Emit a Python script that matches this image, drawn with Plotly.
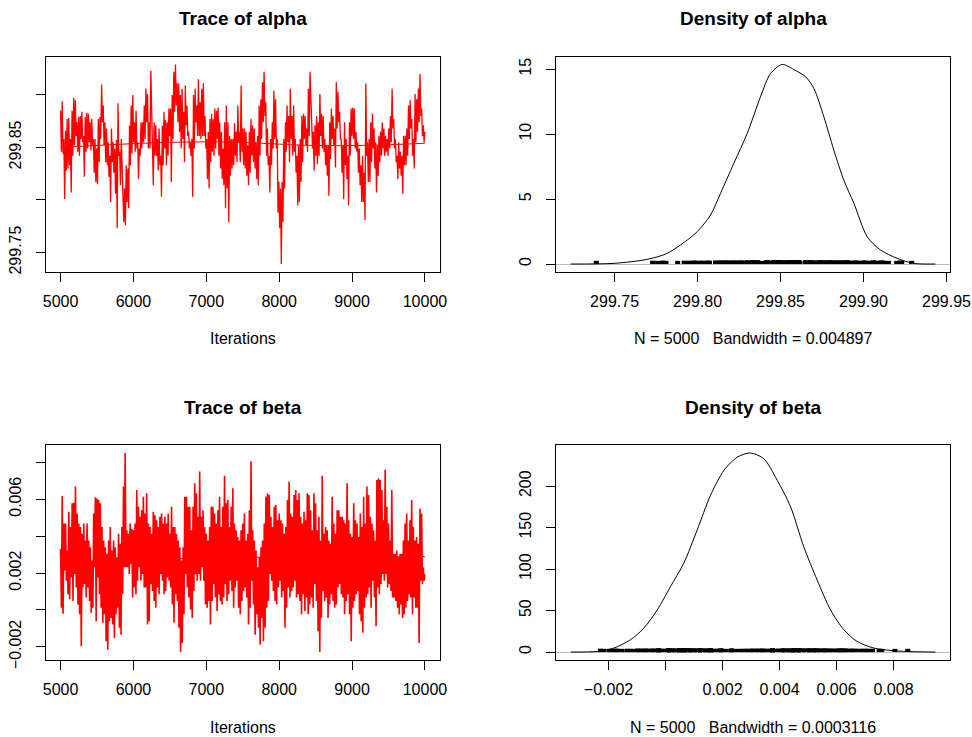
import numpy as np
import plotly.graph_objects as go

# ---------------- data ----------------
alpha_trace = [
299.885, 299.846, 299.894, 299.844, 299.858, 299.801, 299.866, 299.828, 299.877, 299.830,
299.878, 299.833, 299.858, 299.807, 299.885, 299.842, 299.897, 299.852, 299.895, 299.861,
299.874, 299.846, 299.879, 299.842, 299.880, 299.858, 299.884, 299.855, 299.861, 299.822,
299.879, 299.846, 299.883, 299.849, 299.882, 299.855, 299.874, 299.847, 299.877, 299.852,
299.858, 299.826, 299.858, 299.817, 299.849, 299.815, 299.877, 299.836, 299.879, 299.858,
299.910, 299.874, 299.890, 299.852, 299.874, 299.836, 299.868, 299.833, 299.855, 299.822,
299.842, 299.798, 299.868, 299.836, 299.855, 299.826, 299.849, 299.806, 299.857, 299.773,
299.892, 299.842, 299.846, 299.814, 299.858, 299.833, 299.817, 299.779, 299.811, 299.776,
299.833, 299.798, 299.830, 299.792, 299.871, 299.833, 299.890, 299.844, 299.900, 299.855,
299.874, 299.846, 299.885, 299.849, 299.855, 299.820, 299.849, 299.842, 299.874, 299.849,
299.874, 299.855, 299.890, 299.858, 299.906, 299.874, 299.901, 299.849, 299.874, 299.849,
299.923, 299.890, 299.874, 299.814, 299.874, 299.842, 299.871, 299.842, 299.858, 299.828,
299.868, 299.833, 299.842, 299.803, 299.871, 299.833, 299.884, 299.849, 299.876, 299.833,
299.874, 299.842, 299.887, 299.861, 299.887, 299.817, 299.900, 299.858,
299.922, 299.884, 299.929, 299.890, 299.911, 299.874, 299.911, 299.865, 299.900, 299.849,
299.906, 299.858, 299.884, 299.836, 299.909, 299.871, 299.890, 299.861, 299.865, 299.849,
299.855, 299.842, 299.858, 299.803, 299.900, 299.849, 299.906, 299.874, 299.890, 299.861,
299.915, 299.861, 299.893, 299.858, 299.906, 299.861, 299.911, 299.861, 299.880, 299.849,
299.858, 299.820, 299.865, 299.811, 299.877, 299.836, 299.882, 299.846, 299.877, 299.842,
299.887, 299.849, 299.885, 299.858, 299.888, 299.842, 299.874, 299.830, 299.865, 299.820,
299.849, 299.814, 299.874, 299.792, 299.890, 299.811, 299.874, 299.779, 299.861, 299.823,
299.858, 299.830, 299.858, 299.833, 299.873, 299.842, 299.865, 299.836, 299.890, 299.855,
299.865, 299.836, 299.909, 299.846, 299.868, 299.833, 299.868, 299.830, 299.865, 299.823,
299.852, 299.814, 299.865, 299.826, 299.877, 299.842, 299.871, 299.836, 299.868, 299.830,
299.855, 299.820, 299.861, 299.814, 299.890, 299.842, 299.896, 299.858, 299.912, 299.874,
299.922, 299.880, 299.893, 299.842, 299.868, 299.833, 299.842, 299.807, 299.858, 299.833,
299.874, 299.849, 299.904, 299.858, 299.896, 299.849, 299.858, 299.788, 299.817, 299.773,
299.811, 299.739, 299.817, 299.779, 299.858, 299.811, 299.874, 299.846, 299.890, 299.855,
299.880, 299.836, 299.906, 299.858, 299.880, 299.842, 299.890, 299.846, 299.858, 299.826,
299.842, 299.795, 299.852, 299.798, 299.858, 299.817, 299.880, 299.836, 299.882, 299.858,
299.880, 299.852,
299.868, 299.846, 299.906, 299.861, 299.922, 299.884, 299.874, 299.849, 299.865, 299.828,
299.871, 299.842, 299.880, 299.834, 299.874, 299.842, 299.901, 299.861, 299.882, 299.849,
299.880, 299.846, 299.858, 299.833, 299.852, 299.823, 299.852, 299.804, 299.874, 299.839,
299.887, 299.858, 299.880, 299.852, 299.868, 299.831, 299.912, 299.868, 299.903, 299.874,
299.884, 299.858, 299.858, 299.826, 299.852, 299.801, 299.874, 299.833, 299.858, 299.820,
299.842, 299.795, 299.874, 299.842, 299.887, 299.861, 299.888, 299.858, 299.887, 299.849,
299.865, 299.846, 299.855, 299.826, 299.849, 299.814, 299.833, 299.798, 299.842, 299.798,
299.826, 299.781, 299.911, 299.842, 299.855, 299.817, 299.858, 299.817, 299.874, 299.836,
299.882, 299.849, 299.868, 299.830, 299.855, 299.807, 299.852, 299.823, 299.861, 299.836,
299.865, 299.842, 299.874, 299.849, 299.868, 299.842, 299.861, 299.846, 299.858, 299.842,
299.868, 299.849, 299.880, 299.855, 299.906, 299.868, 299.877, 299.849, 299.858, 299.836,
299.842, 299.820, 299.855, 299.830, 299.846, 299.823, 299.842, 299.806, 299.861, 299.833,
299.861, 299.833, 299.868, 299.842, 299.890, 299.858, 299.895, 299.868, 299.877, 299.842,
299.858, 299.830, 299.901, 299.855, 299.896, 299.865, 299.906, 299.874, 299.920, 299.880,
299.887, 299.861, 299.871, 299.855, 299.865,
]

beta_trace = [
0.00331, 0.00012, 0.00617, -0.00021, 0.00468, 0.00213, 0.00468, 0.00158, 0.00322, 0.00085,
0.00531, 0.00058, 0.00449, 0.00176, 0.00577, 0.00049, 0.00580, 0.00194, 0.00668, 0.00122,
0.00522, 0.00030, 0.00468, -0.00024, 0.00449, -0.00197, 0.00413, 0.00122, 0.00468, 0.00140,
0.00376, 0.00067, 0.00468, 0.00122, 0.00376, 0.00049, 0.00340, -0.00015, 0.00267, 0.00012,
0.00522, 0.00231, 0.00610, -0.00061, 0.00604, 0.00176, 0.00595, 0.00085, 0.00577, 0.00012,
0.00449, -0.00070, 0.00376, -0.00024, 0.00340, -0.00170, 0.00304, -0.00216, 0.00376, -0.00061,
0.00449, -0.00043, 0.00322, -0.00079, 0.00376, -0.00152, 0.00340, -0.00024, 0.00285, 0.00012,
0.00413, -0.00097, 0.00358, -0.00134, 0.00449, 0.00085, 0.00668, 0.00231, 0.00850, 0.00231,
0.00431, 0.00231, 0.00413, 0.00194, 0.00468, 0.00249, 0.00440, 0.00067, 0.00431, 0.00122,
0.00468, 0.00085, 0.00650, 0.00158, 0.00559, 0.00231, 0.00504, 0.00158, 0.00540, 0.00194,
0.00613, 0.00122, 0.00522, 0.00122, 0.00632, -0.00079, 0.00468, -0.00061, 0.00449, 0.00140,
0.00413, 0.00103, 0.00531, 0.00049, 0.00513, 0.00012, 0.00486, 0.00122, 0.00449, 0.00085,
0.00504, 0.00194, 0.00522, 0.00158, 0.00468, 0.00085, 0.00504, 0.00103, 0.00468, 0.00176,
0.00522, 0.00158, 0.00413, 0.00122, 0.00559, 0.00030, 0.00449, -0.00070,
0.00449, 0.00085, 0.00413, 0.00049, 0.00376, -0.00097, 0.00340, -0.00228, 0.00267, -0.00179,
0.00340, -0.00024, 0.00613, 0.00194, 0.00613, 0.00122, 0.00559, 0.00067, 0.00559, 0.00003,
0.00431, -0.00043, 0.00559, 0.00103, 0.00686, 0.00194, 0.00632, 0.00158, 0.00504, 0.00194,
0.00750, 0.00158, 0.00504, 0.00231, 0.00540, 0.00158, 0.00449, 0.00030, 0.00413, 0.00012,
0.00376, 0.00049, 0.00449, -0.00079, 0.00559, 0.00049, 0.00559, 0.00140, 0.00522, 0.00067,
0.00468, -0.00006, 0.00540, 0.00085, 0.00613, 0.00049, 0.00449, 0.00030, 0.00559, 0.00067,
0.00726, 0.00140, 0.00577, 0.00049, 0.00595, 0.00085, 0.00449, 0.00158, 0.00559, 0.00103,
0.00659, 0.00012, 0.00468, 0.00122, 0.00431, 0.00158, 0.00395, 0.00012, 0.00376, -0.00024,
0.00431, 0.00049, 0.00468, 0.00103, 0.00522, 0.00122, 0.00376, 0.00067, 0.00413, -0.00079,
0.00540, 0.00012, 0.00805, 0.00158, 0.00431, 0.00030, 0.00376, -0.00134, 0.00322, -0.00024,
0.00231, -0.00097, 0.00285, -0.00188, 0.00340, -0.00043, 0.00376, -0.00170, 0.00468, -0.00097,
0.00613, 0.00012, 0.00632, 0.00049, 0.00622, 0.00194, 0.00504, 0.00158, 0.00449, 0.00103,
0.00559, 0.00049, 0.00568, 0.00030, 0.00486, 0.00122, 0.00522, 0.00158, 0.00486, 0.00067,
0.00468, 0.00103, 0.00413, -0.00097, 0.00449, 0.00012, 0.00595, 0.00122, 0.00695, 0.00067,
0.00522, 0.00103, 0.00504, 0.00122, 0.00622, 0.00158, 0.00650, 0.00067, 0.00595, 0.00085,
0.00632, 0.00049, 0.00504, -0.00024, 0.00468, 0.00085, 0.00531, -0.00006, 0.00486, 0.00067,
0.00632, -0.00024, 0.00622, 0.00030, 0.00540, 0.00067, 0.00431, 0.00012, 0.00632, 0.00140,
0.00577, 0.00049, 0.00431, -0.00115, 0.00504, -0.00228, 0.00376, -0.00043, 0.00726, 0.00103,
0.00413, 0.00049, 0.00449, 0.00067, 0.00431, -0.00043, 0.00376, 0.00030, 0.00358, 0.00085,
0.00613, 0.00049, 0.00468, 0.00012, 0.00413, 0.00030, 0.00540, 0.00122, 0.00540, 0.00140,
0.00504, 0.00085, 0.00504, 0.00067, 0.00486, -0.00024, 0.00468, 0.00049, 0.00686, 0.00085,
0.00486, -0.00024, 0.00413, -0.00170, 0.00395, 0.00012, 0.00577, 0.00049, 0.00486, 0.00085,
0.00468, 0.00103, 0.00395, -0.00024, 0.00522, -0.00061, 0.00449, -0.00124, 0.00613, 0.00012,
0.00468, 0.00067, 0.00668, 0.00085, 0.00622, 0.00122, 0.00504, 0.00012, 0.00468, 0.00158,
0.00431, 0.00067, 0.00376, -0.00088, 0.00704, 0.00122, 0.00713, 0.00085, 0.00704, 0.00140,
0.00650, 0.00194, 0.00486, 0.00158, 0.00759, 0.00194, 0.00559, 0.00122, 0.00468, 0.00140,
0.00376, 0.00103, 0.00650, 0.00067, 0.00304, 0.00067, 0.00304, 0.00049, 0.00322, 0.00012,
0.00285, -0.00024, 0.00304, 0.00030, 0.00304, -0.00043, 0.00376, -0.00024, 0.00468, 0.00012,
0.00522, 0.00049, 0.00376, 0.00085, 0.00486, 0.00067, 0.00595, -0.00024, 0.00449, 0.00067,
0.00376, 0.00012, 0.00395, 0.00012, 0.00358, -0.00179, 0.00549, 0.00158, 0.00522, 0.00140,
0.00231, 0.00158, 0.00194,
]

iter_start, iter_end = 5000, 10000

alpha_smooth_iter = [5000, 5800, 6600, 7400, 8400, 9200, 10000]
alpha_smooth = [299.850, 299.853, 299.855, 299.855, 299.852, 299.852, 299.854]
beta_smooth_iter = [5000, 5300, 5900, 6300, 7000, 8000, 9000, 10000]
beta_smooth = [0.00253, 0.00258, 0.00262, 0.00271, 0.00283, 0.00286, 0.00289, 0.00289]

alpha_dens_x = [299.7235, 299.7496, 299.7697, 299.7817, 299.7938, 299.7998, 299.8078, 299.8138,
                299.8218, 299.8299, 299.8379, 299.8440, 299.8510, 299.8580, 299.8651, 299.8701,
                299.8761, 299.8821, 299.8881, 299.8942, 299.9022, 299.9102, 299.9202, 299.9302,
                299.9433]
alpha_dens_y = [0.0, 0.05, 0.36, 0.82, 1.85, 2.49, 3.77, 5.43, 7.74, 10.05, 12.87, 14.67, 15.36,
                14.97, 14.41, 13.51, 11.33, 8.77, 6.46, 4.67, 2.10, 1.08, 0.44, 0.05, 0.0]
beta_dens_x = [-0.00333, -0.0024, -0.00181, -0.00123, -0.00076, -0.00029, 0.000175, 0.00064,
               0.00111, 0.00158, 0.00205, 0.00252, 0.00298, 0.00345, 0.00392, 0.00439, 0.00485,
               0.00532, 0.00579, 0.00626, 0.00672, 0.00731, 0.0080, 0.0087, 0.00947]
beta_dens_y = [0, 0.7, 4.8, 14.8, 28.8, 50.8, 78.9, 107, 147, 189, 219, 235, 240, 233, 207, 175,
               127, 86.9, 50.8, 26.8, 12.8, 4.8, 1.6, 0.4, 0]

n_samples = 5000
alpha_bw = "0.004897"
beta_bw = "0.0003116"

trace_xticks = [5000, 6000, 7000, 8000, 9000, 10000]
trace_xtext = ["5000", "6000", "7000", "8000", "9000", "10000"]
alpha_yticks = [299.75, 299.80, 299.85, 299.90]
alpha_ytext = ["299.75", "", "299.85", ""]
beta_yticks = [-0.002, 0.0, 0.002, 0.004, 0.006, 0.008]
beta_ytext = ["\u22120.002", "", "0.002", "", "0.006", ""]
adens_xticks = [299.75, 299.80, 299.85, 299.90, 299.95]
adens_xtext = ["299.75", "299.80", "299.85", "299.90", "299.95"]
adens_yticks = [0, 5, 10, 15]
bdens_xticks = [-0.002, 0.0, 0.002, 0.004, 0.006, 0.008]
bdens_xtext = ["\u22120.002", "", "0.002", "0.004", "0.006", "0.008"]
bdens_yticks = [0, 50, 100, 150, 200]

# ---------------- figure ----------------
W, H = 972, 737
FONT = "Liberation Sans, Arial, Helvetica, sans-serif"

def px_x(p):
    return p / W

def px_y(p):
    return 1 - p / H

left_dom = [px_x(46), px_x(439.5)]
right_dom = [px_x(556), px_x(950)]
top_dom = [px_y(272), px_y(56.5)]
bot_dom = [px_y(660), px_y(445)]

def axis(domain, rng, tv, tt, anchor, angle=0, zeroline=False, standoff=6):
    return dict(domain=domain, range=rng, tickmode="array", tickvals=tv, ticktext=tt,
                ticks="outside", ticklen=9, tickwidth=1, tickcolor="black",
                showline=True, linecolor="black", linewidth=1, mirror=True,
                showgrid=False, zeroline=zeroline, zerolinecolor="#bebebe", zerolinewidth=1,
                tickfont=dict(family=FONT, size=16, color="black"), automargin=False,
                ticklabelstandoff=standoff,
                anchor=anchor, tickangle=angle, fixedrange=True)

fig = go.Figure()

ia = np.linspace(iter_start, iter_end, len(alpha_trace))
ib = np.linspace(iter_start, iter_end, len(beta_trace))

fig.add_trace(go.Scatter(x=ia, y=alpha_trace, mode="lines", line=dict(color="#ff0000", width=1.3),
                         xaxis="x", yaxis="y", hoverinfo="skip"))
fig.add_trace(go.Scatter(x=alpha_smooth_iter, y=alpha_smooth, mode="lines", line_shape="spline",
                         line=dict(color="#ff0000", width=1), xaxis="x", yaxis="y", hoverinfo="skip"))
fig.add_trace(go.Scatter(x=ib, y=beta_trace, mode="lines", line=dict(color="#ff0000", width=1.6),
                         xaxis="x3", yaxis="y3", hoverinfo="skip"))
fig.add_trace(go.Scatter(x=beta_smooth_iter, y=beta_smooth, mode="lines", line_shape="spline",
                         line=dict(color="#ff0000", width=1), xaxis="x3", yaxis="y3", hoverinfo="skip"))

def rug(values, dens_y):
    h = max(dens_y) / 100 * 1.6
    xs, ys = [], []
    for v in values:
        xs += [v, v, None]
        ys += [0, h, None]
    return xs, ys

rx, ry = rug(alpha_trace, alpha_dens_y)
fig.add_trace(go.Scatter(x=rx, y=ry, mode="lines", line=dict(color="black", width=5),
                         xaxis="x2", yaxis="y2", hoverinfo="skip"))
fig.add_trace(go.Scatter(x=alpha_dens_x, y=alpha_dens_y, mode="lines", line_shape="spline",
                         line=dict(color="black", width=1, smoothing=0.8), xaxis="x2", yaxis="y2",
                         hoverinfo="skip"))
rx, ry = rug(beta_trace, beta_dens_y)
fig.add_trace(go.Scatter(x=rx, y=ry, mode="lines", line=dict(color="black", width=5),
                         xaxis="x4", yaxis="y4", hoverinfo="skip"))
fig.add_trace(go.Scatter(x=beta_dens_x, y=beta_dens_y, mode="lines", line_shape="spline",
                         line=dict(color="black", width=1, smoothing=0.8), xaxis="x4", yaxis="y4",
                         hoverinfo="skip"))

def ext(lo, hi, f=0.04):
    d = (hi - lo) * f
    return [lo - d, hi + d]

fig.update_layout(
    width=W, height=H, margin=dict(l=0, r=0, t=0, b=0),
    paper_bgcolor="white", plot_bgcolor="white", showlegend=False,
    xaxis=axis(left_dom, ext(iter_start, iter_end), trace_xticks, trace_xtext, "y"),
    yaxis=axis(top_dom, ext(min(alpha_trace), max(alpha_trace)), alpha_yticks, alpha_ytext, "x", -90, standoff=9),
    xaxis2=axis(right_dom, ext(min(alpha_dens_x), max(alpha_dens_x)), adens_xticks, adens_xtext, "y2"),
    yaxis2=axis(top_dom, ext(0, max(alpha_dens_y)), adens_yticks, [str(v) for v in adens_yticks], "x2", -90, True, standoff=9),
    xaxis3=axis(left_dom, ext(iter_start, iter_end), trace_xticks, trace_xtext, "y3"),
    yaxis3=axis(bot_dom, ext(min(beta_trace), max(beta_trace)), beta_yticks, beta_ytext, "x3", -90, standoff=9),
    xaxis4=axis(right_dom, ext(min(beta_dens_x), max(beta_dens_x)), bdens_xticks, bdens_xtext, "y4"),
    yaxis4=axis(bot_dom, ext(0, max(beta_dens_y)), bdens_yticks, [str(v) for v in bdens_yticks], "x4", -90, True, standoff=9),
)

def note(text, xc, yc, size=16, bold=False):
    fig.add_annotation(text=("<b>%s</b>" % text) if bold else text, x=px_x(xc), y=px_y(yc),
                       xref="paper", yref="paper", xanchor="center", yanchor="middle",
                       showarrow=False, font=dict(family=FONT, size=size, color="black"))

sp = "\u00a0\u00a0\u00a0"
note("Trace of alpha", 243, 19, 19, True)
note("Density of alpha", 753, 19, 19, True)
note("Trace of beta", 243, 407, 19, True)
note("Density of beta", 753, 407, 19, True)
note("Iterations", 243, 338)
note("N = %d%sBandwidth = %s" % (n_samples, sp, alpha_bw), 753, 338)
note("Iterations", 243, 727)
note("N = %d%sBandwidth = %s" % (n_samples, sp, beta_bw), 753, 727)

fig.write_html("out.html", config={"displayModeBar": False},
               post_script="document.body.style.margin='0';document.body.style.overflow='hidden';")
